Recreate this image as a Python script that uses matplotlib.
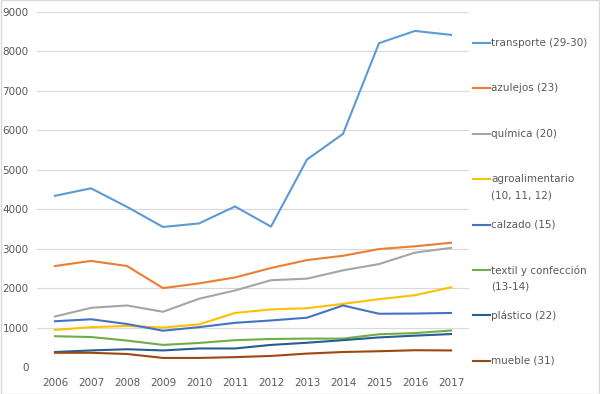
import matplotlib.pyplot as plt
from matplotlib.lines import Line2D
from matplotlib.patches import Rectangle

years = [2006, 2007, 2008, 2009, 2010, 2011, 2012, 2013, 2014, 2015, 2016, 2017]

transporte = [4340, 4530, 4060, 3550, 3640, 4070, 3560, 5260, 5910, 8210, 8520, 8420]
azulejos = [2560, 2690, 2560, 2000, 2120, 2270, 2510, 2710, 2820, 2990, 3060, 3150]
quimica = [1280, 1500, 1560, 1400, 1730, 1940, 2200, 2240, 2450, 2610, 2900, 3020]
agroalimentario = [940, 1010, 1040, 1000, 1080, 1370, 1460, 1490, 1600, 1720, 1820, 2020]
calzado = [1160, 1210, 1090, 920, 1010, 1120, 1180, 1250, 1560, 1350, 1355, 1370]
textil = [780, 760, 670, 560, 610, 680, 710, 720, 720, 830, 860, 925]
plastico = [380, 420, 450, 420, 470, 470, 560, 615, 680, 750, 795, 835]
mueble = [360, 360, 330, 230, 230, 250, 280, 340, 380, 400, 425, 420]

labels = ["transporte (29-30)", "azulejos (23)", "química (20)",
          "agroalimentario\n(10, 11, 12)", "calzado (15)",
          "textil y confección\n(13-14)", "plástico (22)", "mueble (31)"]
series = [transporte, azulejos, quimica, agroalimentario, calzado, textil, plastico, mueble]
colors = ["#5B9BD5", "#ED7D31", "#A5A5A5", "#FFC000", "#4472C4", "#70AD47", "#255E91", "#9E480E"]

W, H = 600, 394
fig = plt.figure(figsize=(6, 3.94), dpi=100)
ax = fig.add_axes([37 / W, 1 - 367 / H, (469 - 37) / W, (367 - 12) / H])

for vals, c in zip(series, colors):
    ax.plot(years, vals, color=c, linewidth=1.5)

ax.set_xlim(2005.5, 2017.5)
ax.set_ylim(0, 9000)
ax.set_xticks(years)
ax.set_yticks(range(0, 9001, 1000))
ax.yaxis.grid(True, color="#D9D9D9", linewidth=0.8)
ax.set_axisbelow(True)
for s in ax.spines.values():
    s.set_visible(False)
ax.tick_params(length=0, labelsize=7.5, labelcolor="#595959")
ax.tick_params(axis="y", pad=6)
ax.tick_params(axis="x", pad=8)

# legend drawn by hand, Excel-style spacing
for i, (lab, c) in enumerate(zip(labels, colors)):
    yp = 43 + i * 45.4
    fig.add_artist(Line2D([473 / W, 490 / W], [1 - yp / H, 1 - yp / H], color=c, linewidth=1.5))
    fig.text(491 / W, 1 - (yp - 5) / H, lab, fontsize=7.5, color="#595959",
             va="top", ha="left", linespacing=1.75)

fig.add_artist(Rectangle((0.001, 0.001), 0.998, 0.998, transform=fig.transFigure,
                         fill=False, edgecolor="#D9D9D9", linewidth=1))

fig.savefig("out.png", dpi=100)
